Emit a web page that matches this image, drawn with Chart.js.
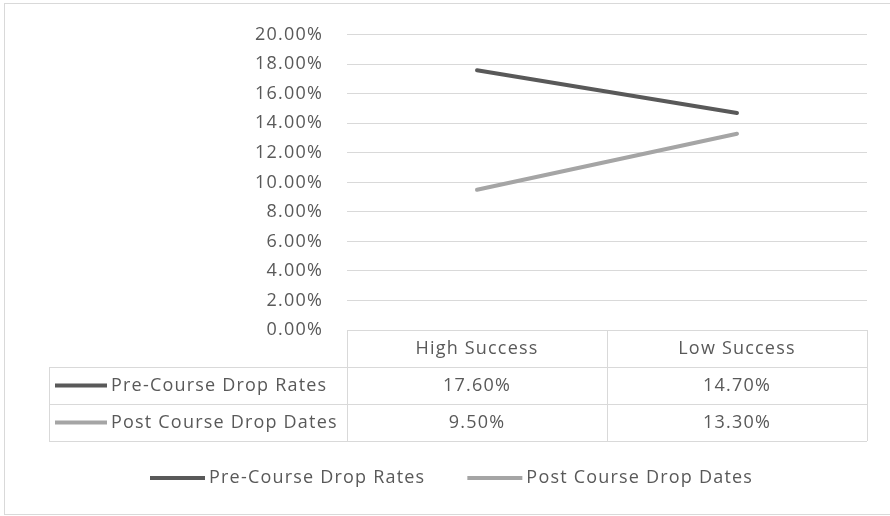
<!DOCTYPE html>
<html>
<head>
<meta charset="utf-8">
<script src="https://cdn.jsdelivr.net/npm/chart.js@4.4.0/dist/chart.umd.min.js"></script>
<style>
  html, body { margin: 0; padding: 0; background: #fff; }
  #wrap { width: 890px; height: 516px; position: relative; }
</style>
</head>
<body>
<div id="wrap"><canvas id="chart" width="890" height="516"></canvas></div>
<script>
// data
categories = ['High Success', 'Low Success']
preCourse = [17.6, 14.7]
postCourse = [9.5, 13.3]
seriesNames = ['Pre-Course Drop Rates', 'Post Course Drop Dates']
seriesColors = ['#595959', '#a5a5a5']

FONT = '"Open Sans", sans-serif'
TEXT = '#595959'
GRID = '#d9d9d9'
SPACING = '1.2px'

function pct(v) { return v.toFixed(2) + '%' }

// wider lettering, closer to the original
const spacingPlugin = {
  id: 'spacing',
  beforeDraw(chart) { chart.ctx.letterSpacing = SPACING }
}

// draws the frame, the data table under the plot and the legend
const tablePlugin = {
  id: 'dataTable',
  afterDraw(chart) {
    const ctx = chart.ctx
    const area = chart.chartArea
    const xs = chart.scales.x
    const n = categories.length
    const colW = area.width / n
    const rowH = 37
    const top = area.bottom
    const leftEdge = 49
    ctx.save()
    ctx.letterSpacing = SPACING

    // outer frame
    ctx.strokeStyle = GRID
    ctx.lineWidth = 1
    ctx.strokeRect(4.5, 3.5, 900, 511)

    // table lines
    ctx.beginPath()
    ctx.moveTo(area.left, top + 0.5); ctx.lineTo(area.right, top + 0.5)
    for (let r = 1; r <= 3; r++) {
      const y = Math.round(top + r * rowH) + 0.5
      ctx.moveTo(leftEdge, y); ctx.lineTo(area.right, y)
    }
    for (let c = 0; c <= n; c++) {
      const x = Math.round(area.left + c * colW) + 0.5
      ctx.moveTo(x, top); ctx.lineTo(x, top + 3 * rowH)
    }
    ctx.moveTo(leftEdge + 0.5, top + rowH); ctx.lineTo(leftEdge + 0.5, top + 3 * rowH)
    ctx.stroke()

    ctx.font = '18px ' + FONT
    ctx.fillStyle = TEXT
    ctx.textBaseline = 'middle'
    ctx.textAlign = 'center'
    categories.forEach((c, i) => {
      ctx.fillText(c, xs.getPixelForValue(i), top + rowH / 2)
    })

    chart.data.datasets.forEach((ds, r) => {
      const yc = top + (r + 1.5) * rowH
      ctx.strokeStyle = ds.borderColor
      ctx.lineWidth = 4
      ctx.beginPath(); ctx.moveTo(55, yc); ctx.lineTo(107, yc); ctx.stroke()
      ctx.textAlign = 'left'
      ctx.fillStyle = TEXT
      ctx.fillText(ds.label, 111, yc)
      ctx.textAlign = 'center'
      ds.data.forEach((v, i) => {
        ctx.fillText(pct(v), xs.getPixelForValue(i), yc)
      })
    })

    // legend
    const ly = 478
    let lx = 150
    chart.data.datasets.forEach(ds => {
      ctx.strokeStyle = ds.borderColor
      ctx.lineWidth = 4
      ctx.beginPath(); ctx.moveTo(lx, ly); ctx.lineTo(lx + 55, ly); ctx.stroke()
      ctx.textAlign = 'left'
      ctx.fillStyle = TEXT
      ctx.fillText(ds.label, lx + 59, ly)
      lx += 59 + ctx.measureText(ds.label).width + 42
    })
    ctx.restore()
  }
}

new Chart(document.getElementById('chart'), {
  type: 'line',
  data: {
    labels: categories,
    datasets: [
      { label: seriesNames[0], data: preCourse, borderColor: seriesColors[0], backgroundColor: seriesColors[0] },
      { label: seriesNames[1], data: postCourse, borderColor: seriesColors[1], backgroundColor: seriesColors[1] }
    ]
  },
  options: {
    responsive: false,
    animation: false,
    layout: { padding: { top: 31, right: 23, bottom: 186, left: 0 } },
    elements: {
      line: { borderWidth: 4, borderCapStyle: 'round', tension: 0 },
      point: { radius: 0 }
    },
    plugins: { legend: { display: false }, tooltip: { enabled: false } },
    scales: {
      x: { display: false, offset: true },
      y: {
        min: 0, max: 20,
        border: { display: false },
        afterFit(scale) { scale.width = 347 },
        grid: { color: GRID, drawTicks: false },
        ticks: {
          stepSize: 2, padding: 24, color: TEXT,
          font: { family: '"Open Sans", sans-serif', size: 18 },
          callback: v => pct(v)
        }
      }
    }
  },
  plugins: [spacingPlugin, tablePlugin]
})
</script>
</body>
</html>
